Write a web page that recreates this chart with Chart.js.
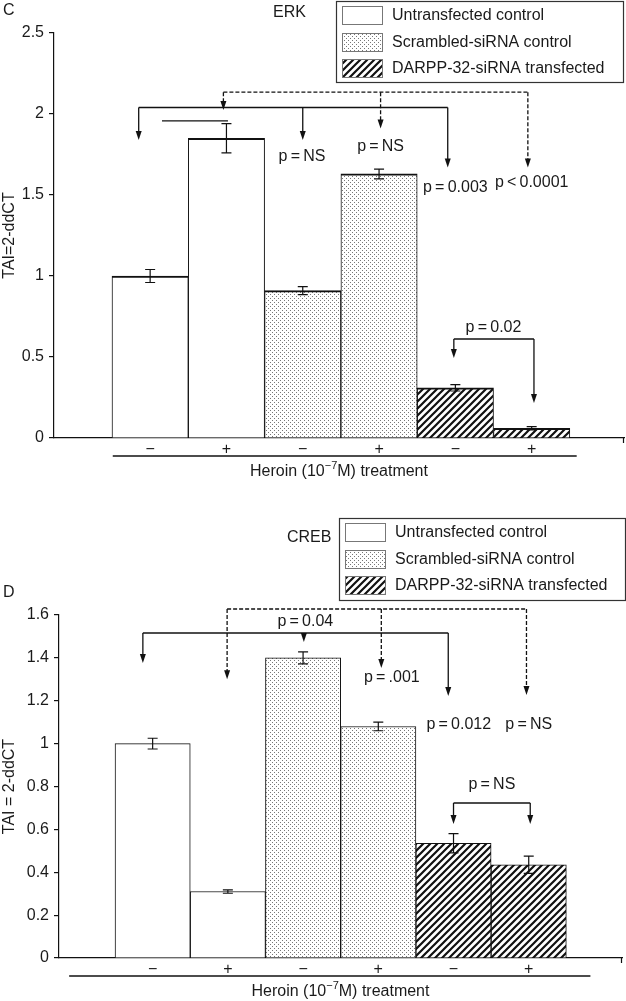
<!DOCTYPE html>
<html>
<head>
<meta charset="utf-8">
<script src="https://cdn.jsdelivr.net/npm/chart.js@4.4.1/dist/chart.umd.min.js"></script>
<style>
  body { margin: 0; background: #fff; }
  .panel { position: absolute; left: 0; width: 626px; }
  #top { top: 0; height: 490px; }
  #bottom { top: 490px; height: 511px; }
</style>
</head>
<body>
<div class="panel" id="top"><canvas id="erkChart"></canvas></div>
<div class="panel" id="bottom"><canvas id="crebChart"></canvas></div>
<script>
// Data
let treatment = ["\u2212", "+", "\u2212", "+", "\u2212", "+"];
let groups = ["Untransfected control", "Scrambled-siRNA control", "DARPP-32-siRNA transfected"];
let groupOf = [0, 0, 1, 1, 2, 2];

let erk = [1.00, 1.85, 0.91, 1.63, 0.31, 0.06];
let erkErr = [0.04, 0.09, 0.025, 0.03, 0.02, 0.01];
let erkTicks = [0, 0.5, 1, 1.5, 2, 2.5];

let creb = [1.00, 0.31, 1.40, 1.08, 0.535, 0.435];
let crebErr = [0.025, 0.008, 0.028, 0.02, 0.045, 0.04];
let crebTicks = [0, 0.2, 0.4, 0.6, 0.8, 1, 1.2, 1.4, 1.6];

// comparison brackets: level, dashed, arrows [x, tip value]
let erkBrackets = [
    { y: 2.04, dashed: false, arrows: [[0.85, 1.84], [3.0, 1.84], [4.9, 1.67]] },
    { y: 2.135, dashed: true, arrows: [[1.96, 2.025], [4.02, 1.91], [5.95, 1.67]] },
    { y: 0.611, dashed: false, arrows: [[4.98, 0.494], [6.03, 0.216]] },
    { y: 1.957, dashed: false, span: [1.155, 2.02], arrows: [] }
];
let erkP = [
    { x: 2.99, y: 1.735, text: "p\u2009=\u2009NS" },
    { x: 4.02, y: 1.796, text: "p\u2009=\u2009NS" },
    { x: 5.0, y: 1.543, text: "p\u2009=\u20090.003" },
    { x: 6.0, y: 1.574, text: "p\u2009<\u20090.0001" },
    { x: 5.5, y: 0.679, text: "p\u2009=\u20090.02" }
];

let crebBrackets = [
    { y: 1.516, dashed: false, arrows: [[0.87, 1.376], [3.01, 1.474], [4.93, 1.222]] },
    { y: 1.628, dashed: true, arrows: [[1.99, 1.30], [4.04, 1.353], [5.97, 1.227]] },
    { y: 0.723, dashed: false, arrows: [[5.0, 0.625], [6.02, 0.625]] }
];
let crebP = [
    { x: 3.03, y: 1.567, text: "p\u2009=\u20090.04" },
    { x: 4.18, y: 1.31, text: "p\u2009=\u2009.001" },
    { x: 5.07, y: 1.087, text: "p\u2009=\u20090.012" },
    { x: 6.0, y: 1.087, text: "p\u2009=\u2009NS" },
    { x: 5.51, y: 0.807, text: "p\u2009=\u2009NS" }
];

const FONT = "'Liberation Sans', Arial, Helvetica, sans-serif";
const INK = "#1a1a1a";

// fills
function dotPattern() {
    const c = document.createElement("canvas");
    c.width = 4; c.height = 4;
    const g = c.getContext("2d");
    g.fillStyle = "#fff"; g.fillRect(0, 0, 4, 4);
    g.fillStyle = "#777";
    g.fillRect(0, 0, 1, 1);
    g.fillRect(2, 2, 1, 1);
    return g.createPattern(c, "repeat");
}
function hatchPattern() {
    const s = 7;
    const c = document.createElement("canvas");
    c.width = s; c.height = s;
    const g = c.getContext("2d");
    g.fillStyle = "#fff"; g.fillRect(0, 0, s, s);
    g.strokeStyle = "#111"; g.lineWidth = 2.2;
    g.beginPath();
    g.moveTo(-1, s + 1); g.lineTo(s + 1, -1);
    g.moveTo(-1, 1); g.lineTo(1, -1);
    g.moveTo(s - 1, s + 1); g.lineTo(s + 1, s - 1);
    g.stroke();
    return g.createPattern(c, "repeat");
}
let fills = ["#fff", dotPattern(), hatchPattern()];

function buildDatasets(values, errors, border) {
    return groups.map((name, g) => ({
        label: name,
        data: values.map((v, i) => ({ x: i + 1, y: v })).filter((p, i) => groupOf[i] === g),
        errors: errors.filter((e, i) => groupOf[i] === g),
        backgroundColor: fills[g],
        borderColor: "#111",
        borderWidth: border,
        borderSkipped: "bottom",
        grouped: false,
        barPercentage: 1,
        categoryPercentage: 1
    }));
}

function arrowDown(ctx, x, y1, y2, dashed) {
    const head = 9;
    ctx.setLineDash(dashed ? [4, 2] : []);
    ctx.beginPath();
    ctx.moveTo(x, y1);
    ctx.lineTo(x, y2 - head + 1);
    ctx.stroke();
    ctx.setLineDash([]);
    ctx.beginPath();
    ctx.moveTo(x - 3, y2 - head);
    ctx.lineTo(x + 3, y2 - head);
    ctx.lineTo(x, y2);
    ctx.closePath();
    ctx.fill();
}

function drawLegend(ctx, box) {
    ctx.save();
    ctx.fillStyle = "#fff";
    ctx.fillRect(box.x, box.y, box.w, box.h);
    ctx.strokeStyle = "#333"; ctx.lineWidth = 1.2;
    ctx.strokeRect(box.x + 0.5, box.y + 0.5, box.w, box.h);
    const rows = [5, 32, 58];
    groups.forEach((name, g) => {
        const sy = box.y + rows[g];
        ctx.fillStyle = fills[g];
        ctx.fillRect(box.x + 6, sy, 40, 18);
        ctx.strokeStyle = "#777"; ctx.lineWidth = 1;
        ctx.strokeRect(box.x + 6.5, sy + 0.5, 40, 18);
        ctx.fillStyle = INK;
        ctx.font = "16px " + FONT;
        ctx.textBaseline = "middle";
        ctx.textAlign = "left";
        ctx.fillText(name, box.x + 56, sy + 10);
    });
    ctx.restore();
}

function decor(cfg) {
    return {
        id: "decor",
        afterDatasetsDraw(chart) {
            const ctx = chart.ctx, y = chart.scales.y;
            ctx.save();
            ctx.strokeStyle = "#111"; ctx.lineWidth = 1.2;
            chart.data.datasets.forEach((ds, di) => {
                chart.getDatasetMeta(di).data.forEach((bar, j) => {
                    const v = ds.data[j].y, e = ds.errors[j];
                    const t = y.getPixelForValue(v + e), b = y.getPixelForValue(v - e);
                    ctx.beginPath();
                    ctx.moveTo(bar.x, t); ctx.lineTo(bar.x, b);
                    ctx.moveTo(bar.x - 5, t); ctx.lineTo(bar.x + 5, t);
                    ctx.moveTo(bar.x - 5, b); ctx.lineTo(bar.x + 5, b);
                    ctx.stroke();
                });
            });
            ctx.restore();
        },
        afterDraw(chart) {
            const ctx = chart.ctx, x = chart.scales.x, y = chart.scales.y;
            const area = chart.chartArea;
            ctx.save();
            ctx.strokeStyle = "#111"; ctx.fillStyle = "#111"; ctx.lineWidth = 1.3;

            // brackets
            cfg.brackets.forEach(br => {
                const xs = br.span || br.arrows.map(a => a[0]);
                const ly = y.getPixelForValue(br.y);
                ctx.setLineDash(br.dashed ? [4, 2] : []);
                ctx.beginPath();
                ctx.moveTo(x.getPixelForValue(Math.min(...xs)), ly);
                ctx.lineTo(x.getPixelForValue(Math.max(...xs)), ly);
                ctx.stroke();
                br.arrows.forEach(a => arrowDown(ctx, x.getPixelForValue(a[0]), ly, y.getPixelForValue(a[1]), br.dashed));
            });
            ctx.setLineDash([]);

            // p values
            ctx.fillStyle = INK;
            ctx.font = "16px " + FONT;
            ctx.textAlign = "center";
            ctx.textBaseline = "middle";
            cfg.pvals.forEach(p => ctx.fillText(p.text, x.getPixelForValue(p.x), y.getPixelForValue(p.y)));

            // axis end tick and second line
            ctx.lineWidth = 1.2;
            ctx.beginPath();
            ctx.moveTo(area.right - 0.5, area.bottom);
            ctx.lineTo(area.right - 0.5, area.bottom + 5);
            ctx.stroke();
            ctx.lineWidth = 1.5;
            ctx.beginPath();
            ctx.moveTo(x.getPixelForValue(cfg.underline[0]), area.bottom + 18);
            ctx.lineTo(x.getPixelForValue(cfg.underline[1]), area.bottom + 18);
            ctx.stroke();

            // x title with superscript
            const a = "Heroin (10", sup = "\u22127", b = "M) treatment";
            ctx.font = "16px " + FONT;
            const wa = ctx.measureText(a).width, wb = ctx.measureText(b).width;
            ctx.font = "11px " + FONT;
            const ws = ctx.measureText(sup).width;
            let tx = (area.left + area.right) / 2 - (wa + ws + wb) / 2;
            const ty = area.bottom + 34;
            ctx.textAlign = "left";
            ctx.font = "16px " + FONT;
            ctx.fillText(a, tx, ty);
            ctx.font = "11px " + FONT;
            ctx.fillText(sup, tx + wa, ty - 6);
            ctx.font = "16px " + FONT;
            ctx.fillText(b, tx + wa + ws, ty);

            // panel letter and gene name
            ctx.fillText(cfg.letter.text, cfg.letter.x, cfg.letter.y);
            ctx.fillText(cfg.gene.text, cfg.gene.x, cfg.gene.y);

            drawLegend(ctx, cfg.legend);
            ctx.restore();
        }
    };
}

function makeChart(id, values, errors, yTicks, cfg) {
    return new Chart(document.getElementById(id), {
        type: "bar",
        data: { datasets: buildDatasets(values, errors, cfg.barBorder) },
        options: {
            responsive: true,
            maintainAspectRatio: false,
            animation: false,
            devicePixelRatio: 1,
            layout: { padding: { top: cfg.padTop, right: cfg.padRight, left: 0, bottom: 0 } },
            plugins: { legend: { display: false }, tooltip: { enabled: false } },
            scales: {
                x: {
                    type: "linear",
                    offset: false,
                    min: cfg.xRange[0],
                    max: cfg.xRange[1],
                    afterBuildTicks: s => { s.ticks = treatment.map((t, i) => ({ value: i + 1 })); },
                    ticks: {
                        callback: v => treatment[v - 1],
                        font: { family: FONT, size: 16 },
                        color: INK,
                        padding: 2,
                        autoSkip: false,
                        maxRotation: 0
                    },
                    grid: { display: false, drawTicks: false, offset: false },
                    border: { color: "#111", width: 1.2 },
                    afterFit: s => { s.height = cfg.xHeight; }
                },
                y: {
                    min: yTicks[0],
                    max: yTicks[yTicks.length - 1],
                    afterBuildTicks: s => { s.ticks = yTicks.map(v => ({ value: v })); },
                    ticks: {
                        callback: v => String(v),
                        font: { family: FONT, size: 16 },
                        color: INK,
                        padding: 5
                    },
                    grid: { drawOnChartArea: false, tickLength: 5, color: "#111", lineWidth: 1.2 },
                    border: { color: "#111", width: 1.2 },
                    title: {
                        display: true,
                        text: cfg.yTitle,
                        font: { family: FONT, size: 16 },
                        color: INK,
                        padding: 0
                    },
                    afterFit: s => { s.width = cfg.yWidth; }
                }
            }
        },
        plugins: [decor(cfg)]
    });
}

makeChart("erkChart", erk, erkErr, erkTicks, {
    barBorder: { top: 2, left: 1, right: 1, bottom: 0 },
    padTop: 33, padRight: 2, xHeight: 52, yWidth: 54,
    xRange: [-0.26, 7.21],
    yTitle: "TAI=2-ddCT",
    brackets: erkBrackets,
    pvals: erkP,
    underline: [0.51, 6.59],
    letter: { text: "C", x: 3, y: 11 },
    gene: { text: "ERK", x: 273, y: 13 },
    legend: { x: 336, y: 1, w: 287, h: 81 }
});

makeChart("crebChart", creb, crebErr, crebTicks, {
    barBorder: { top: 1, left: 1, right: 1, bottom: 0 },
    padTop: 125, padRight: 4, xHeight: 43, yWidth: 59,
    xRange: [-0.245, 7.24],
    yTitle: "TAI = 2-ddCT",
    brackets: crebBrackets,
    pvals: crebP,
    underline: [-0.11, 6.82],
    letter: { text: "D", x: 3, y: 103 },
    gene: { text: "CREB", x: 287, y: 48 },
    legend: { x: 339, y: 28, w: 286, h: 82 }
});
</script>
</body>
</html>
